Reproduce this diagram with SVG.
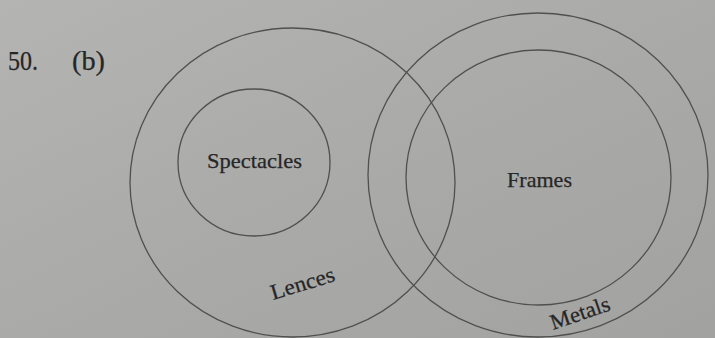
<svg xmlns="http://www.w3.org/2000/svg" width="715" height="338" viewBox="0 0 715 338">
  <defs>
    <linearGradient id="bg" x1="0" y1="0" x2="1" y2="1">
      <stop offset="0" stop-color="#b4b4b2"/>
      <stop offset="0.5" stop-color="#aaaaa8"/>
      <stop offset="1" stop-color="#a2a2a0"/>
    </linearGradient>
    <style>
      .ring { fill: none; stroke: #505050; stroke-width: 1.3; }
      .lbl { font-family: "Liberation Serif", "Times New Roman", serif; font-size: 22px; fill: #262626; stroke: #262626; stroke-width: 0.25; }
      .head { font-family: "Liberation Serif", "Times New Roman", serif; font-size: 28px; fill: #262626; stroke: #262626; stroke-width: 0.25; }
    </style>
  </defs>
  <rect x="0" y="0" width="715" height="338" fill="url(#bg)"/>

  <g id="heading">
    <text class="head" x="8" y="70" textLength="30" lengthAdjust="spacingAndGlyphs">50.</text>
    <text class="head" x="72" y="70" textLength="33" lengthAdjust="spacingAndGlyphs">(b)</text>
  </g>

  <g id="lences">
    <ellipse class="ring" cx="292.5" cy="182.5" rx="162.5" ry="154.5"/>
    <text class="lbl" x="0" y="0" textLength="66" lengthAdjust="spacingAndGlyphs" transform="translate(273 300) rotate(-17)">Lences</text>
  </g>

  <g id="spectacles">
    <ellipse class="ring" cx="254" cy="162.5" rx="76" ry="73.5"/>
    <text class="lbl" x="207" y="168" textLength="95" lengthAdjust="spacingAndGlyphs">Spectacles</text>
  </g>

  <g id="metals">
    <ellipse class="ring" cx="538" cy="175" rx="170" ry="162"/>
    <text class="lbl" x="0" y="0" textLength="62" lengthAdjust="spacingAndGlyphs" transform="translate(553 330) rotate(-19)">Metals</text>
  </g>

  <g id="frames">
    <ellipse class="ring" cx="538.5" cy="177.5" rx="132.5" ry="127.5"/>
    <text class="lbl" x="507" y="187" textLength="65" lengthAdjust="spacingAndGlyphs">Frames</text>
  </g>

  <g id="connectors"></g>
</svg>
